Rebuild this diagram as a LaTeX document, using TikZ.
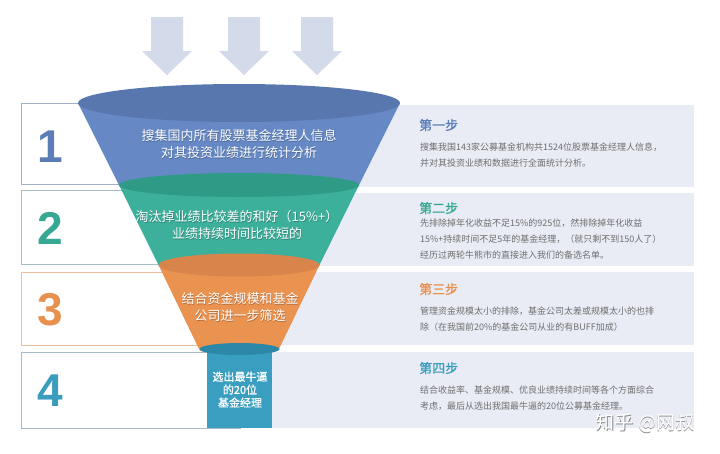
\documentclass[tikz,border=0pt]{standalone}
\usepackage{fontspec}
\setmainfont{Liberation Sans}
\newfontfamily\cjk{Noto Sans CJK SC}
\newfontfamily\cjkb[FakeBold=1.2]{Noto Sans CJK SC}

\definecolor{arrowc}{HTML}{D3DAE9}
\definecolor{panelc}{HTML}{E9ECF5}
\definecolor{blueTop}{HTML}{5877AE}
\definecolor{blueBody}{HTML}{6689C6}
\definecolor{greenTop}{HTML}{2F9B86}
\definecolor{greenBody}{HTML}{3CB09B}
\definecolor{orangeTop}{HTML}{D8844B}
\definecolor{orangeBody}{HTML}{EA924F}
\definecolor{stemTop}{HTML}{2D88A7}
\definecolor{stemBody}{HTML}{3A9EC0}
\definecolor{numA}{HTML}{5B7DB8}
\definecolor{numB}{HTML}{37A894}
\definecolor{numC}{HTML}{E8914F}
\definecolor{numD}{HTML}{3A9DBE}
\definecolor{edgeA}{HTML}{A3AFC2}
\definecolor{edgeB}{HTML}{A6BDC4}
\definecolor{edgeC}{HTML}{EDBE9C}
\definecolor{edgeD}{HTML}{A6B9C6}
\definecolor{bodytxt}{HTML}{6E6E6E}

\begin{document}
\begin{tikzpicture}[x=1pt,y=-1pt,
  numbox/.style={line width=0.9pt},
  panel/.style={fill=panelc},
  bignum/.style={inner sep=0pt,font=\fontsize{46}{46}\selectfont\bfseries},
  funneltxt/.style={inner sep=0pt,align=center,text=white,
    font=\cjk\fontsize{13}{17}\selectfont},
  funnelshadow/.style={inner sep=0pt,align=center,text=black,opacity=0.25,
    font=\cjk\fontsize{13}{17}\selectfont},
  steptitle/.style={inner sep=0pt,anchor=west,font=\cjkb\fontsize{13}{15}\selectfont},
  steptxt/.style={inner sep=0pt,anchor=west,align=left,text=bodytxt,
    font=\cjk\fontsize{9}{16}\selectfont},
  downarrow/.style={fill=arrowc}]

\useasboundingbox (0,0) rectangle (720,453);
\fill[white] (0,0) rectangle (720,453);

% three input arrows above the funnel
\foreach \cx in {167,244,317}{
  \fill[downarrow] (\cx-16,17) -- (\cx+16,17) -- (\cx+16,51) -- (\cx+25,51)
    -- (\cx,75) -- (\cx-25,51) -- (\cx-16,51) -- cycle;
}

% numbered boxes on the left
\draw[numbox,edgeA] (21,103) rectangle (240,184);
\draw[numbox,edgeB] (21,190) rectangle (240,264);
\draw[numbox,edgeC] (21,272) rectangle (240,345);
\draw[numbox,edgeD] (21,352) rectangle (240,428);

% description panels on the right
\fill[panel] (240,105) rectangle (694,187);
\fill[panel] (240,193) rectangle (694,266);
\fill[panel] (240,272) rectangle (694,345);
\fill[panel] (272,352) rectangle (694,428);

% funnel: layer 1
\fill[blueBody] (78,103) -- (119,185)
  arc[start angle=180,end angle=0,x radius=120,y radius=12] -- (400,103) -- cycle;
\fill[blueTop] (239,103) ellipse [x radius=161,y radius=19];
% layer 2
\fill[greenBody] (119,185) -- (158.5,265)
  arc[start angle=180,end angle=0,x radius=80.5,y radius=11.5] -- (359,185) -- cycle;
\fill[greenTop] (239,185) ellipse [x radius=120,y radius=12];
% layer 3
\fill[orangeBody] (158.5,265) -- (199,349)
  arc[start angle=180,end angle=0,x radius=40,y radius=6] -- (319.5,265) -- cycle;
\fill[orangeTop] (239,265) ellipse [x radius=80.5,y radius=11.5];
% spout
\fill[stemBody] (207,349) rectangle (272,428);
\fill[stemTop] (239.5,349) ellipse [x radius=40,y radius=6];

% funnel labels
\node[funnelshadow] at (239.6,145.1) {搜集国内所有股票基金经理人信息\\对其投资业绩进行统计分析};
\node[funneltxt] (f1) at (239,144.5) {搜集国内所有股票基金经理人信息\\对其投资业绩进行统计分析};
\node[funnelshadow] at (237.6,225.6) {淘汰掉业绩比较差的和好（15\%+）\\业绩持续时间比较短的};
\node[funneltxt] (f2) at (237,225) {淘汰掉业绩比较差的和好（15\%+）\\业绩持续时间比较短的};
\node[funnelshadow] at (240.6,307.6) {结合资金规模和基金\\公司进一步筛选};
\node[funneltxt] (f3) at (240,307) {结合资金规模和基金\\公司进一步筛选};
\node[funneltxt,font=\cjkb\fontsize{11}{13}\selectfont] (f4) at (240,389.5)
  {选出最牛逼\\的20位\\基金经理};

% step numbers
\node[bignum,text=numA] (n1) at (50,147) {1};
\node[bignum,text=numB] (n2) at (50,228) {2};
\node[bignum,text=numC] (n3) at (50,310) {3};
\node[bignum,text=numD] (n4) at (50,391) {4};

% step descriptions
\node[steptitle,text=numA] (t1) at (419,125) {第一步};
\node[steptxt] (d1) at (420,155) {搜集我国143家公募基金机构共1524位股票基金经理人信息，\\并对其投资业绩和数据进行全面统计分析。};
\node[steptitle,text=numB] (t2) at (419,208) {第二步};
\node[steptxt] (d2) at (420,239) {先排除掉年化收益不足15\%的925位，然排除掉年化收益\\15\%+持续时间不足5年的基金经理，（就只剩不到150人了）\\经历过两轮牛熊市的直接进入我们的备选名单。};
\node[steptitle,text=numC] (t3) at (419,289) {第三步};
\node[steptxt] (d3) at (420,319.5) {管理资金规模太小的排除，基金公司太差或规模太小的也排\\除（在我国前20\%的基金公司从业的有BUFF加成）};
\node[steptitle,text=numD] (t4) at (419,368) {第四步};
\node[steptxt] (d4) at (420,398) {结合收益率、基金规模、优良业绩持续时间等各个方面综合\\考虑，最后从选出我国最牛逼的20位公募基金经理。};

% signature
\node[inner sep=0pt,text=black!45,font=\cjk\fontsize{19}{19}\selectfont] at (645.7,423.7) {知乎 @网叔};
\node[inner sep=0pt,text=white,font=\cjk\fontsize{19}{19}\selectfont] (wm) at (645,423) {知乎 @网叔};
\end{tikzpicture}
\end{document}
